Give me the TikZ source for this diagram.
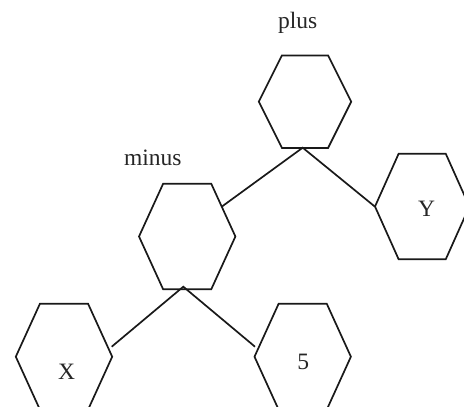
\documentclass[tikz,border=0pt]{standalone}
\usepackage{fontspec}
\setmainfont{Liberation Serif}
\usetikzlibrary{calc}
\newcommand\hexnode[5]{% name, cx, cy, half width, half height
  \node[minimum width=2*#4pt, minimum height=2*#5pt, inner sep=0pt, draw=none] (#1) at (#2,#3) {};
  \draw[hexline] (#1.west) -- ($(#1.north west)!0.25!(#1.north east)$) -- ($(#1.north west)!0.75!(#1.north east)$)
    -- (#1.east) -- ($(#1.south west)!0.75!(#1.south east)$) -- ($(#1.south west)!0.25!(#1.south east)$) -- cycle;
}
\begin{document}
\begin{tikzpicture}[x=1pt,y=-1pt,
  hexline/.style={line width=1.7pt, line join=miter, black!90},
  edge/.style={line width=1.7pt, black!90},
  lbl/.style={font=\fontsize{23.5}{28}\selectfont, inner sep=0pt, anchor=base, text=black!85}]
\useasboundingbox (0,0) rectangle (464,407);
\hexnode{plus}{305}{101.7}{46}{46}
\hexnode{minus}{187.2}{236.5}{48}{52.5}
\hexnode{y}{422.2}{206.5}{47}{52.5}
\hexnode{x}{64}{356.7}{48}{52.7}
\hexnode{five}{302.7}{356.7}{48}{52.7}
\node[lbl] (plusl) at (297.8,28.3) {plus};
\node[lbl] (minusl) at (152.9,165) {minus};
\node[lbl] (yl) at (426.7,216.7) {Y};
\node[lbl] (xl) at (66.7,379.3) {X};
\node[lbl] (fivel) at (303.3,369.3) {5};
\coordinate (pj) at (302.7,147.7);
\coordinate (me) at (221.7,206.7);
\coordinate (ye) at (375,206.7);
\coordinate (mj) at (183.3,286.7);
\coordinate (xe) at (111.7,346.7);
\coordinate (fe) at (255,346.7);
\draw[edge] (me) -- (pj) -- (ye);
\draw[edge] (xe) -- (mj) -- (fe);
\end{tikzpicture}
\end{document}
